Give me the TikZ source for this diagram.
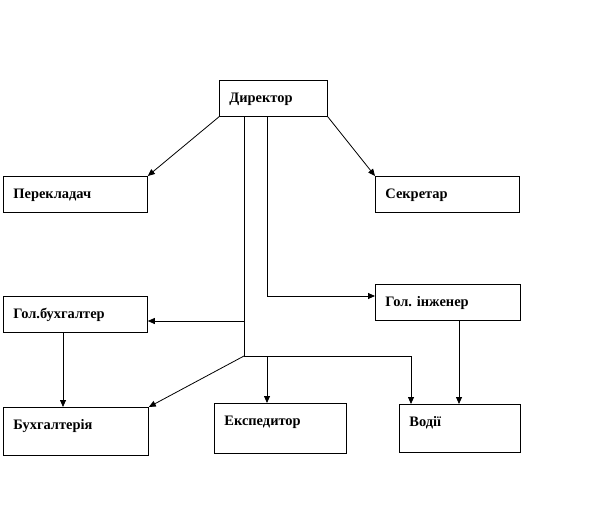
\documentclass[tikz,border=0pt]{standalone}
\usepackage{fontspec}
\setmainfont{Liberation Serif}
\usepackage{tikz}
\usetikzlibrary{arrows.meta}

\tikzset{
  unit/.style={draw, line width=0.8bp, anchor=north west, inner xsep=10bp, inner ysep=0pt,
    text height=22.5bp, align=left, font=\bfseries\fontsize{14.5}{17}\selectfont},
  arr/.style={-{Triangle[length=7bp,width=6bp]}}
}

\begin{document}
\begin{tikzpicture}[x=1bp, y=-1bp, line width=0.8bp]
    \useasboundingbox (0,0) rectangle (615,513);
    \node[unit, text width=88bp, text depth=13.5bp] (dir) at (219,80) {Директор};
    \node[unit, text width=124bp, text depth=13.5bp] (per) at (3,176) {Перекладач};
    \node[unit, text width=124bp, text depth=13.5bp] (sec) at (375,176) {Секретар};
    \node[unit, text width=124bp, text depth=13.5bp] (gb) at (3,296) {Гол.бухгалтер};
    \node[unit, text width=125bp, text depth=13.5bp] (gi) at (375,284) {Гол.\ інженер};
    \node[unit, text width=125bp, text depth=25.5bp] (bukh) at (3,407) {Бухгалтерія};
    \node[unit, text width=112bp, text depth=27.5bp] (eksp) at (214,403) {Експедитор};
    \node[unit, text width=101bp, text depth=25.5bp] (vod) at (399,404) {Водії};
    % trunk and bus points
    \coordinate (t1) at (244,321);
    \coordinate (t2) at (244,356);
    \coordinate (e1) at (267,296);
    \coordinate (b1) at (267,356);
    \coordinate (b2) at (411,356);
    \draw[arr] (dir.south west) -- (per.north east);
    \draw[arr] (dir.south east) -- (sec.north west);
    \draw (t2 |- dir.south) -- (t2);
    \draw[arr] (t1) -- (t1 -| gb.east);
    \draw[arr] (e1 |- dir.south) -- (e1) -- (e1 -| gi.west);
    \draw[arr] (t2) -- (b2) -- (b2 |- vod.north);
    \draw[arr] (b1) -- (b1 |- eksp.north);
    \draw[arr] (t2) -- (bukh.north east);
    \draw[arr] ([xshift=60bp]gb.south west) -- ([xshift=60bp]bukh.north west);
    \draw[arr] ([xshift=84bp]gi.south west) -- ([xshift=84bp]gi.south west |- vod.north);
\end{tikzpicture}
\end{document}
